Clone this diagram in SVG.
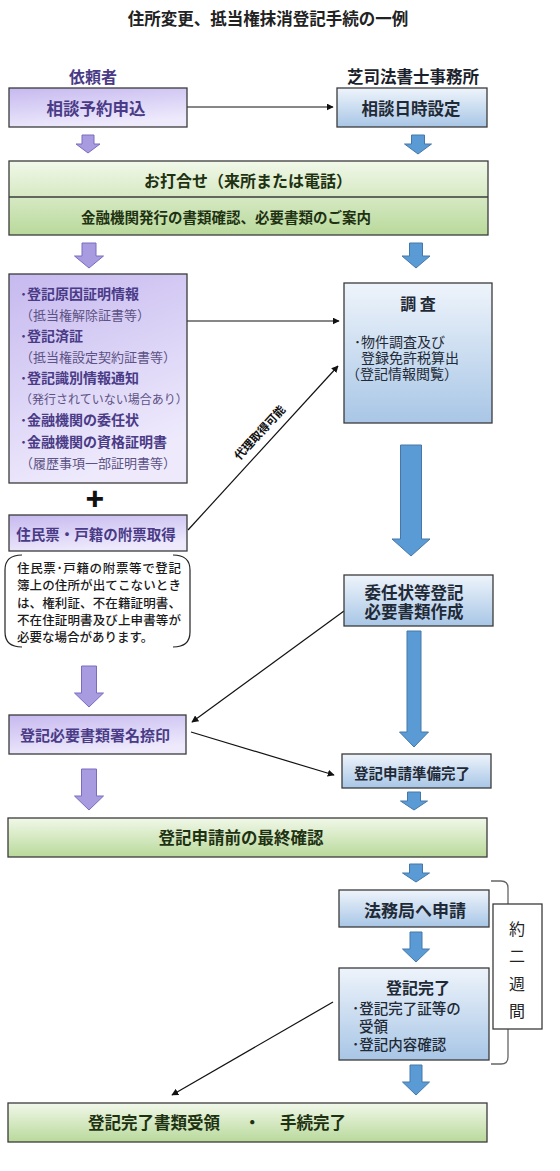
<svg xmlns="http://www.w3.org/2000/svg" width="560" height="1171" viewBox="0 0 560 1171">
<defs>
<linearGradient id="gp" x1="0" y1="0" x2="0.35" y2="1">
<stop offset="0" stop-color="#c6b9ef"/>
<stop offset="1" stop-color="#eeeafc"/>
</linearGradient>
<linearGradient id="gb" x1="0" y1="0" x2="0" y2="1">
<stop offset="0" stop-color="#eef4fb"/>
<stop offset="1" stop-color="#a8c6e6"/>
</linearGradient>
<linearGradient id="gg" x1="0" y1="0" x2="0" y2="1">
<stop offset="0" stop-color="#f1f8e9"/>
<stop offset="1" stop-color="#b9d99b"/>
</linearGradient>
<marker id="ah" viewBox="0 0 10 10" refX="9" refY="5" markerWidth="7" markerHeight="7" orient="auto" markerUnits="userSpaceOnUse">
<path d="M0 0 L10 5 L0 10 Z" fill="#111"/>
</marker>
<style>
text { font-family: 'Noto Sans CJK JP', 'Noto Sans', sans-serif; dominant-baseline: central; }
.bp { fill: url(#gp); stroke: #3b3b3b; stroke-width: 1.3; }
.bb { fill: url(#gb); stroke: #3b3b3b; stroke-width: 1.3; }
.bg { fill: url(#gg); stroke: #3b3b3b; stroke-width: 1.3; }
.tp { fill: #4a3b87; font-weight: bold; }
.tpn { fill: #5d5285; }
.tb { fill: #1f2a36; font-weight: bold; }
.tg { fill: #1e3212; font-weight: bold; }
.mid { text-anchor: middle; }
.con { stroke: #111; stroke-width: 1.2; fill: none; marker-end: url(#ah); }
.ap { fill: #a99be0; stroke: #7b6cc0; stroke-width: 1; }
.ab { fill: #5b9bd5; stroke: #4578a8; stroke-width: 1; }
</style>
</defs>
<rect width="560" height="1171" fill="#ffffff"/>

<text x="268" y="18" class="mid" font-size="16.5" font-weight="bold" fill="#222">住所変更、抵当権抹消登記手続の一例</text>
<text x="93" y="76" class="mid" font-size="16" font-weight="bold" fill="#4a3b87">依頼者</text>
<text x="413" y="76" class="mid" font-size="16.5" font-weight="bold" fill="#1c1f2c">芝司法書士事務所</text>

<g id="connectors">
<line class="con" x1="187" y1="107" x2="333" y2="107"/>
<line class="con" x1="187" y1="321" x2="339" y2="321"/>
<line class="con" x1="188" y1="530" x2="338" y2="366"/>
<line class="con" x1="344" y1="611" x2="192" y2="722"/>
<line class="con" x1="191" y1="732" x2="334" y2="775"/>
<line class="con" x1="333" y1="1002" x2="172" y2="1095"/>
<text x="259" y="432" class="mid" font-size="11.5" font-weight="bold" fill="#111" transform="rotate(-47.5 259 432)">代理取得可能</text>
</g>

<g id="block-arrows">
<path class="ap" d="M82 135 H94 V144 H100 L88 153 L76 144 H82 Z"/>
<path class="ab" d="M411.5 135 H424.5 V144 H431.5 L418 154 L404.5 144 H411.5 Z"/>
<path class="ap" d="M82 243 H96 V256 H103.5 L89 268 L74.5 256 H82 Z"/>
<path class="ab" d="M409.5 243 H422.5 V256 H430 L416 268 L402 256 H409.5 Z"/>
<path class="ab" d="M400.5 445 H421.5 V539 H430 L411 556 L392 539 H400.5 Z"/>
<path class="ab" d="M407 631 H421 V732 H428.5 L414 747 L399.5 732 H407 Z"/>
<path class="ap" d="M81.5 666 H96.5 V693 H103.5 L89 707 L74.5 693 H81.5 Z"/>
<path class="ap" d="M81.5 769 H96.5 V796 H103.5 L89 810 L74.5 796 H81.5 Z"/>
<path class="ab" d="M407.5 792 H420.5 V801 H427.5 L414 810 L400.5 801 H407.5 Z"/>
<path class="ab" d="M409.5 864 H422.5 V873 H429.5 L416 882 L402.5 873 H409.5 Z"/>
<path class="ab" d="M410 932 H422 V949 H429.5 L416 962 L402.5 949 H410 Z"/>
<path class="ab" d="M410 1065 H422 V1082 H429.5 L416 1095 L402.5 1082 H410 Z"/>
</g>

<g id="n-soudan-yoyaku">
<rect class="bp" x="9" y="88" width="178" height="39"/>
<text x="96" y="108" class="mid tp" font-size="16.5">相談予約申込</text>
</g>

<g id="n-soudan-nichiji">
<rect class="bb" x="337" y="88" width="150" height="39"/>
<text x="411" y="108" class="mid tb" font-size="16.5">相談日時設定</text>
</g>

<g id="n-uchiawase">
<rect class="bg" x="9" y="161" width="479" height="74"/>
<line x1="9" y1="197" x2="488" y2="197" stroke="#3b3b3b" stroke-width="1.3"/>
<text x="248" y="180" class="mid tg" font-size="16">お打合せ（来所または電話）</text>
<text x="226" y="216" class="mid tg" font-size="14.5">金融機関発行の書類確認、必要書類のご案内</text>
</g>

<g id="n-shorui">
<rect class="bp" x="9" y="274" width="178" height="209"/>
<text x="20" y="293" class="tp" font-size="14">･登記原因証明情報</text>
<text x="20" y="314" class="tpn" font-size="13">（抵当権解除証書等）</text>
<text x="20" y="335" class="tp" font-size="14">･登記済証</text>
<text x="20" y="356" class="tpn" font-size="13">（抵当権設定契約証書等）</text>
<text x="20" y="377" class="tp" font-size="14">･登記識別情報通知</text>
<text x="20" y="398" class="tpn" font-size="12">（発行されていない場合あり）</text>
<text x="20" y="419" class="tp" font-size="14">･金融機関の委任状</text>
<text x="20" y="441" class="tp" font-size="14">･金融機関の資格証明書</text>
<text x="20" y="462" class="tpn" font-size="13">（履歴事項一部証明書等）</text>
</g>

<g id="plus">
<text x="95" y="497" class="mid" font-size="30" font-weight="900" fill="#111">+</text>
</g>

<g id="n-juminhyo">
<rect class="bp" x="9" y="515" width="178" height="36"/>
<text x="96" y="533" class="mid tp" font-size="14.5">住民票・戸籍の附票取得</text>
</g>

<g id="n-note">
<path d="M22 555 Q5 555 5 570 V632 Q5 647 22 647 M173 555 Q190 555 190 570 V632 Q190 647 173 647" fill="none" stroke="#222" stroke-width="1.2"/>
<text x="17" y="567" font-size="12.5" fill="#1a1a1a" font-weight="500" textLength="164" lengthAdjust="spacing">住民票･戸籍の附票等で登記</text>
<text x="17" y="584" font-size="12.5" fill="#1a1a1a" font-weight="500" textLength="164" lengthAdjust="spacing">簿上の住所が出てこないとき</text>
<text x="17" y="602" font-size="12.5" fill="#1a1a1a" font-weight="500" textLength="164" lengthAdjust="spacing">は、権利証、不在籍証明書、</text>
<text x="17" y="619" font-size="12.5" fill="#1a1a1a" font-weight="500" textLength="164" lengthAdjust="spacing">不在住証明書及び上申書等が</text>
<text x="17" y="636" font-size="12.5" fill="#1a1a1a" font-weight="500">必要な場合があります。</text>
</g>

<g id="n-chousa">
<rect class="bb" x="344" y="283" width="148" height="140"/>
<text x="418" y="303" class="mid tb" font-size="16">調 査</text>
<text x="354" y="341" fill="#1f2a36" font-size="14">･物件調査及び</text>
<text x="361" y="357" fill="#1f2a36" font-size="14">登録免許税算出</text>
<text x="346" y="373" fill="#1f2a36" font-size="14">（登記情報閲覧）</text>
</g>

<g id="n-ininjo">
<rect class="bb" x="344" y="575" width="149" height="51"/>
<text x="414" y="592" class="mid tb" font-size="16.5">委任状等登記</text>
<text x="414" y="611" class="mid tb" font-size="16.5">必要書類作成</text>
</g>

<g id="n-shomei">
<rect class="bp" x="9" y="715" width="177" height="39"/>
<text x="95" y="734" class="mid tp" font-size="15">登記必要書類署名捺印</text>
</g>

<g id="n-junbi">
<rect class="bb" x="342" y="754" width="149" height="34"/>
<text x="412" y="772" class="mid tb" font-size="14.5">登記申請準備完了</text>
</g>

<g id="n-saishu">
<rect class="bg" x="8" y="818" width="479" height="39"/>
<text x="241" y="837" class="mid tg" font-size="16.5">登記申請前の最終確認</text>
</g>

<g id="n-houmukyoku">
<rect class="bb" x="339" y="890" width="150" height="37"/>
<text x="415" y="909" class="mid tb" font-size="17">法務局へ申請</text>
</g>

<g id="n-kanryo">
<rect class="bb" x="339" y="968" width="150" height="92"/>
<text x="418" y="987" class="mid tb" font-size="16">登記完了</text>
<text x="352" y="1007" fill="#1f2a36" font-size="14.5" font-weight="500">･登記完了証等の</text>
<text x="359" y="1025" fill="#1f2a36" font-size="14.5" font-weight="500">受領</text>
<text x="352" y="1043" fill="#1f2a36" font-size="14.5" font-weight="500">･登記内容確認</text>
</g>

<g id="bracket">
<path d="M491 881 H501 Q508 881 508 888 V1057 Q508 1064 501 1064 H491" fill="none" stroke="#666" stroke-width="1.3"/>
</g>

<g id="n-nishukan">
<rect x="493" y="904" width="49" height="125" fill="#fff" stroke="#3b3b3b" stroke-width="1.3"/>
<text x="517" y="928" class="mid" font-size="16" fill="#222">約</text>
<text x="517" y="955" class="mid" font-size="16" fill="#222">二</text>
<text x="517" y="983" class="mid" font-size="16" fill="#222">週</text>
<text x="517" y="1010" class="mid" font-size="16" fill="#222">間</text>
</g>

<g id="n-tetsuzuki">
<rect class="bg" x="8" y="1103" width="479" height="39"/>
<text y="1122" class="tg" font-size="16.5"><tspan x="88">登記完了書類受領</tspan><tspan x="244">・</tspan><tspan x="280">手続完了</tspan></text>
</g>
</svg>
